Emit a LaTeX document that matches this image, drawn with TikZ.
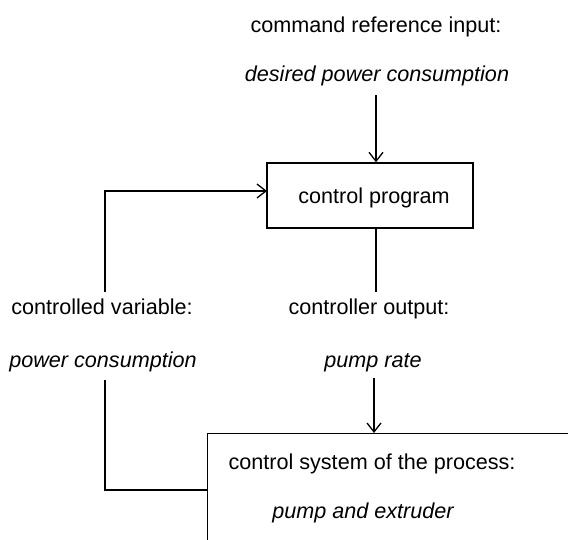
\documentclass[tikz,border=0pt]{standalone}
\usepackage{fontspec}
\setmainfont{Liberation Sans}
\usetikzlibrary{arrows.meta}
\begin{document}
\begin{tikzpicture}[x=1pt,y=-1pt,line width=1.3pt,
  arr/.style={-{Straight Barb[length=9pt,width=14pt,line width=1.3pt]}},
  lbl/.style={font=\fontsize{21.6}{26}\selectfont,inner sep=0pt,anchor=base},
  ilbl/.style={lbl,font=\fontsize{21.6}{26}\selectfont\itshape},
  box/.style={draw,inner sep=0pt}]
\useasboundingbox (0,0) rectangle (568,540);
\clip (0,0) rectangle (568,540);
% texts
\node[lbl]  (cmd)  at (376,33)  {command reference input:};
\node[ilbl] (des)  at (377,82)  {desired power consumption};
\node[box,minimum width=206pt,minimum height=65pt] (cp) at (370,195.5) {};
\node[lbl]  (cpt)  at (374,204) {control program};
\node[lbl]  (cv)   at (102,315) {controlled variable:};
\node[ilbl] (pc)   at (103,367) {power consumption};
\node[lbl]  (co)   at (369,315) {controller output:};
\node[ilbl] (pr)   at (373,367) {pump rate};
\node[box,minimum width=420pt,minimum height=160pt,anchor=north west] (cs) at (207,433) {};
\node[lbl]  (cst)  at (372,469) {control system of the process:};
\node[ilbl] (pe)   at (363,518) {pump and extruder};
% connector coordinates
\coordinate (inTop) at (376,95);
\coordinate (fbUp) at (105,292);
\coordinate (fbIn) at (267,191);
\coordinate (outEnd) at (376,292);
\coordinate (prTop) at (374,378);
\coordinate (fbLow) at (105,380);
\coordinate (fbOut) at (207,490);
% connectors
\draw[arr] (inTop) -- (inTop |- cp.north);
\draw[arr] (fbUp) |- (fbIn);
\draw (outEnd |- cp.south) -- (outEnd);
\draw[arr] (prTop) -- (prTop |- cs.north);
\draw (fbLow) |- (fbOut);
\end{tikzpicture}
\end{document}
